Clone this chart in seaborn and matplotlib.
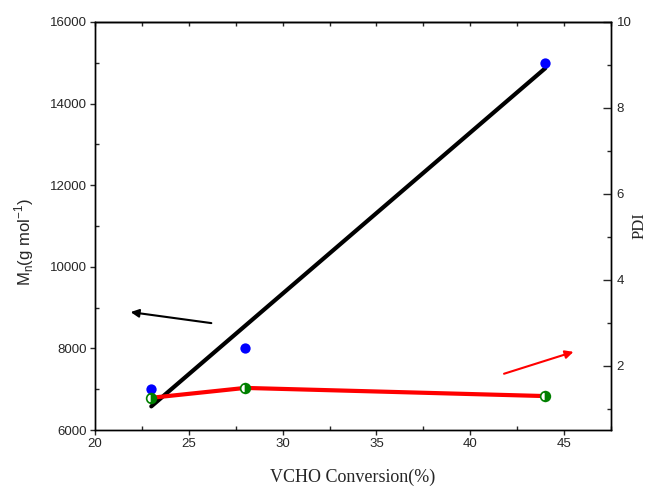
import numpy as np
import pandas as pd
import seaborn as sns
import matplotlib.pyplot as plt
from matplotlib.ticker import MultipleLocator

conversion = [23, 28, 44]
mn = [7000, 8000, 15000]
pdi = [1.25, 1.48, 1.29]

sns.set_style('ticks')
plt.rcParams['font.family'] = ['Liberation Sans', 'DejaVu Sans']
plt.rcParams['mathtext.fontset'] = 'custom'
plt.rcParams['mathtext.rm'] = 'Liberation Sans'

df = pd.DataFrame({'conv': conversion, 'mn': mn, 'pdi': pdi})

fig = plt.figure(figsize=(6.48, 4.92), dpi=100)
ax = fig.add_axes([0.1466, 0.126, 0.7963, 0.8293])
ax2 = ax.twinx()

# Mn: linear fit + points
sns.regplot(data=df, x='conv', y='mn', ax=ax, scatter=False, ci=None,
            truncate=True, line_kws=dict(color='black', lw=3, zorder=2))
sns.scatterplot(data=df, x='conv', y='mn', ax=ax, color='#0000ff', s=55,
                edgecolor='#0000ff', linewidth=0, zorder=3)

# PDI: red line with half-filled green markers
sns.lineplot(data=df, x='conv', y='pdi', ax=ax2, color='red', lw=3,
             marker='o', markersize=7, markerfacecolor='green',
             markeredgecolor='green', markeredgewidth=1.2,
             fillstyle='right', markerfacecoloralt='white')

ax.set_xlim(20, 47.5)
ax.set_ylim(6000, 16000)
ax2.set_ylim(0.5, 10)

ax.xaxis.set_major_locator(MultipleLocator(5))
ax.xaxis.set_minor_locator(MultipleLocator(2.5))
ax.yaxis.set_major_locator(MultipleLocator(2000))
ax.yaxis.set_minor_locator(MultipleLocator(1000))
ax2.yaxis.set_major_locator(MultipleLocator(2))
ax2.yaxis.set_minor_locator(MultipleLocator(1))

ax.tick_params(which='major', direction='out', length=3.5, width=1, labelsize=9.5, pad=2)
ax.tick_params(which='minor', direction='in', length=3, width=1)
ax2.tick_params(which='major', direction='in', length=6, width=1, labelsize=9.5, pad=4)
ax2.tick_params(which='minor', direction='in', length=3, width=1)

top = ax.secondary_xaxis('top')
top.xaxis.set_major_locator(MultipleLocator(5))
top.xaxis.set_minor_locator(MultipleLocator(2.5))
top.tick_params(which='both', direction='in', labeltop=False, length=3, width=1)

for a in (ax, ax2):
    for s in a.spines.values():
        s.set_linewidth(1)
        s.set_color('black')
top.spines['top'].set_linewidth(1)

ax.set_xlabel('VCHO Conversion(%)', family='Liberation Serif', fontsize=13, labelpad=14)
ax.set_ylabel(r'M$_\mathregular{n}$(g mol$^\mathregular{-1}$)', fontsize=12)
ax.yaxis.set_label_coords(-0.115, 0.46)
ax2.set_ylabel('PDI', family='Liberation Serif', fontsize=12)
ax2.yaxis.set_label_coords(1.04, 0.5)

ax.annotate('', xy=(21.9, 8890), xytext=(26.2, 8620),
            arrowprops=dict(arrowstyle='-|>', color='black', lw=1.5,
                            mutation_scale=12, shrinkA=0, shrinkB=0))
ax2.annotate('', xy=(45.5, 2.32), xytext=(41.8, 1.81),
             arrowprops=dict(arrowstyle='-|>', color='red', lw=1.5,
                             mutation_scale=12, shrinkA=0, shrinkB=0))

fig.savefig('out.png', dpi=100)
